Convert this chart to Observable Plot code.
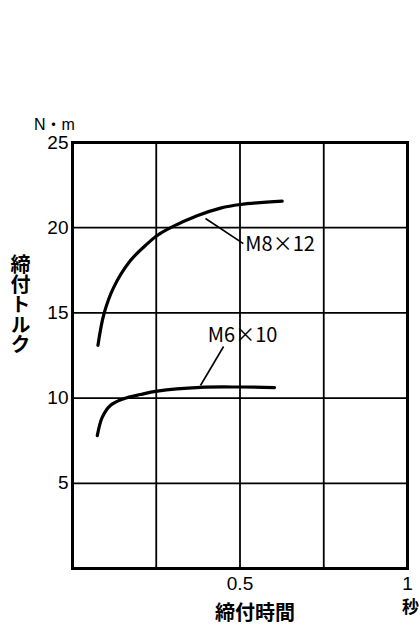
<!DOCTYPE html>
<html><head><meta charset="utf-8">
<script src="https://cdn.jsdelivr.net/npm/d3@7"></script>
<script src="https://cdn.jsdelivr.net/npm/@observablehq/plot@0.6"></script>
<style>html,body{margin:0;padding:0;background:#fff;}</style>
</head><body>
<div id="chart"></div>
<script>
// Data
const m8Time = [0.076, 0.094, 0.123, 0.173, 0.223, 0.253, 0.293, 0.372, 0.442, 0.501, 0.626];
const m8Torque = [13.1, 14.95, 16.5, 18.07, 19.05, 19.54, 20.0, 20.7, 21.15, 21.36, 21.56];
const m6Time = [0.074, 0.089, 0.113, 0.153, 0.203, 0.253, 0.382, 0.501, 0.603];
const m6Torque = [7.8, 8.88, 9.57, 9.96, 10.21, 10.41, 10.63, 10.65, 10.62];
const seriesNames = ["M8×12", "M6×10"];
const xTicks = [0.5, 1];
const xTickLabels = ["0.5", "1"];
const yTicks = [5, 10, 15, 20, 25];
const xGrid = [0.25, 0.5, 0.75];
const yGrid = [5, 10, 15, 20];
const yTitle = "締付トルク";
const xTitle = "締付時間";
const yUnit = "N・m";
const xUnit = "秒";
// annotation anchors (data units): leader start, leader end, label left edge
const labelLeader = [
  {name: seriesNames[0], x1: 0.397, y1: 20.54, x2: 0.510, y2: 19.07, tx: 0.516, ty: 19.0},
  {name: seriesNames[1], x1: 0.382, y1: 10.74, x2: 0.451, y2: 13.03, tx: 0.404, ty: 13.67}
];

const m8 = m8Time.map((t, i) => ({t, v: m8Torque[i], s: seriesNames[0]}));
const m6 = m6Time.map((t, i) => ({t, v: m6Torque[i], s: seriesNames[1]}));

const latin = "'Liberation Sans', Arial, 'Noto Sans CJK JP', sans-serif";
const cjk = "'Noto Sans CJK JP', sans-serif";

const chart = Plot.plot({
  width: 419, height: 627,
  marginLeft: 72, marginRight: 12, marginTop: 142, marginBottom: 59,
  style: {fontFamily: latin, background: "#fff", color: "#000"},
  x: {domain: [0, 1], axis: null},
  y: {domain: [0, 25], axis: null},
  marks: [
    Plot.ruleX(xGrid, {stroke: "#000", strokeWidth: 1.8}),
    Plot.ruleY(yGrid, {stroke: "#000", strokeWidth: 1.8}),
    Plot.frame({stroke: "#000", strokeWidth: 3}),
    Plot.axisY(yTicks, {tickSize: 0, tickPadding: 4, fontSize: 19, fill: "#000"}),
    Plot.axisX(xTicks, {tickSize: 0, tickPadding: 8, fontSize: 19, fill: "#000",
      tickFormat: d => xTickLabels[xTicks.indexOf(d)]}),
    Plot.line(m8, {x: "t", y: "v", curve: "catmull-rom", stroke: "#000", strokeWidth: 3.2}),
    Plot.line(m6, {x: "t", y: "v", curve: "catmull-rom", stroke: "#000", strokeWidth: 3.2}),
    Plot.link(labelLeader, {x1: "x1", y1: "y1", x2: "x2", y2: "y2", stroke: "#000", strokeWidth: 1.6}),
    Plot.text(labelLeader, {x: "tx", y: "ty", text: "name", textAnchor: "start", lineAnchor: "middle", fontSize: 20, fontFamily: cjk, fill: "#000"}),
    Plot.text([yUnit], {frameAnchor: "top-left", text: d => d, textAnchor: "middle", lineAnchor: "middle", dx: -18, dy: -18, fontSize: 16, fill: "#000"}),
    Plot.text([yTitle], {frameAnchor: "left", text: d => d, textAnchor: "middle", lineAnchor: "bottom", dx: -52, dy: -51, fontSize: 20, fontFamily: cjk, fontWeight: "bold", fill: "#000"}),
    Plot.text([xTitle], {frameAnchor: "bottom", text: d => d, textAnchor: "middle", lineAnchor: "middle", dx: 15, dy: 45, fontSize: 20, fontFamily: cjk, fontWeight: "bold", fill: "#000"}),
    Plot.text([xUnit], {x: () => 1, frameAnchor: "bottom", text: d => d, textAnchor: "middle", lineAnchor: "middle", dx: 3, dy: 39, fontSize: 17, fontFamily: cjk, fontWeight: "bold", fill: "#000"})
  ]
});
// vertical writing for the y title
d3.select(chart).selectAll("text").filter(function() { return this.textContent === yTitle; })
  .attr("dy", null)
  .style("writing-mode", "vertical-rl")
  .style("text-orientation", "upright");
document.getElementById("chart").appendChild(chart);
</script>
</body></html>
